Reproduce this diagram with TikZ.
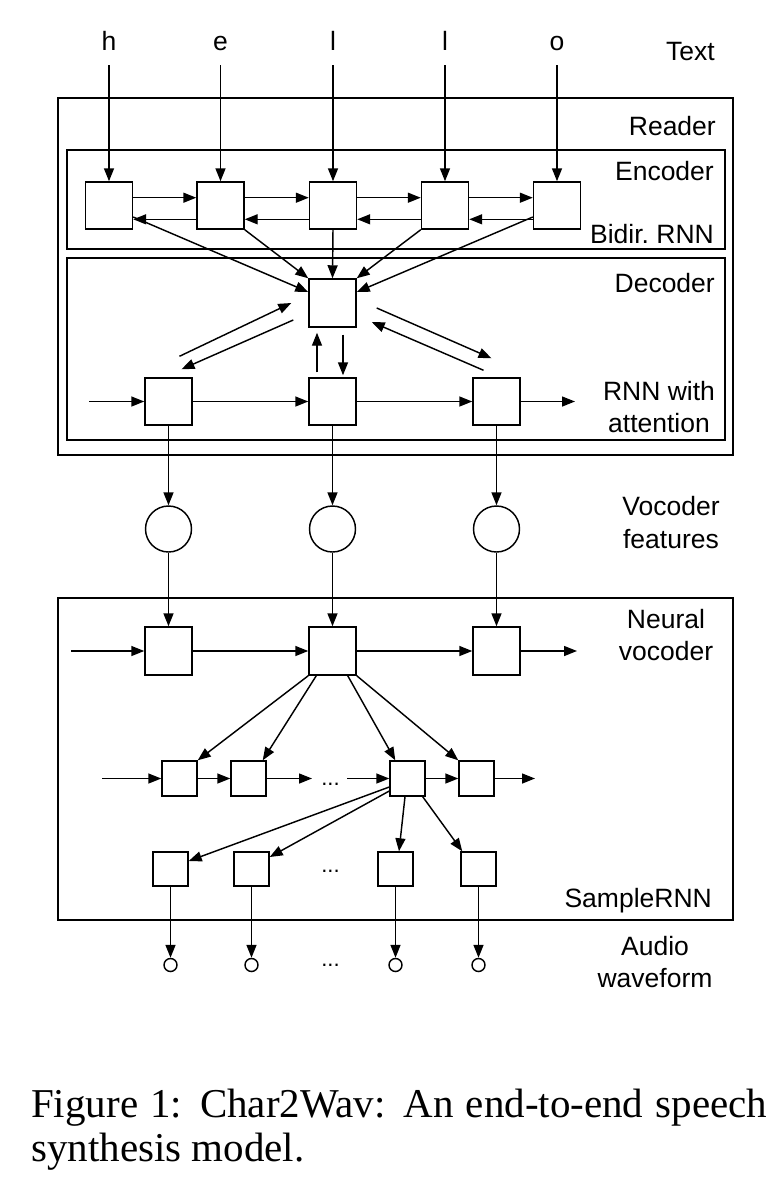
\documentclass[tikz,border=0pt]{standalone}
\usepackage{fontspec}
\setmainfont{Liberation Sans}
\newfontfamily\capfont{Liberation Serif}
\usetikzlibrary{arrows.meta,calc}
\begin{document}
\begin{tikzpicture}[x=1pt,y=-1pt,
  arr/.style={line width=1.45pt,-{Triangle[length=13pt,width=10pt]}},
  frame/.style={draw,line width=1.45pt},
  bigbox/.style={draw,line width=1.45pt,minimum width=47pt,minimum height=47pt,inner sep=0pt},
  smallbox/.style={draw,line width=1.45pt,minimum width=35pt,minimum height=35pt,inner sep=0pt},
  feat/.style={draw,circle,line width=1.45pt,minimum size=46pt,inner sep=0pt},
  wave/.style={draw,circle,line width=1.45pt,minimum size=13pt,inner sep=0pt},
  lab/.style={inner sep=0pt,font=\fontsize{26.5}{32}\selectfont},
  dotlab/.style={inner sep=0pt,font=\fontsize{22}{26}\selectfont},
  captext/.style={inner sep=0pt,anchor=base west,font=\capfont\fontsize{41}{44}\selectfont},
]
\useasboundingbox (0,0) rectangle (775,1200);
\fill[white] (0,0) rectangle (775,1200);

% frames
\draw[frame] (58,98) rectangle (733,455);
\draw[frame] (67,150) rectangle (725,249);
\draw[frame] (67,258) rectangle (725,440);
\draw[frame] (58,598) rectangle (733,920);

% encoder
\node[bigbox] (e1) at (109,205.5) {};
\node[bigbox] (e2) at (220.5,205.5) {};
\node[bigbox] (e3) at (333,205.5) {};
\node[bigbox] (e4) at (445,205.5) {};
\node[bigbox] (e5) at (557,205.5) {};

% letters
\node[lab,anchor=base] (t1) at (e1.north |- 0,50) {h};
\node[lab,anchor=base] (t2) at (e2.north |- 0,50) {e};
\node[lab,anchor=base] (t3) at (e3.north |- 0,50) {l};
\node[lab,anchor=base] (t4) at (e4.north |- 0,50) {l};
\node[lab,anchor=base] (t5) at (e5.north |- 0,50) {o};
\foreach \i in {1,...,5} {
  \draw[arr] ([yshift=-15pt]t\i.base) -- (e\i.north);
}
\foreach \a/\b in {e1/e2,e2/e3,e3/e4,e4/e5} {
  \draw[arr] ($(\a.east)+(0,-7.8)$) -- ($(\b.west)+(0,-7.8)$);
  \draw[arr] ($(\b.west)+(0,13.8)$) -- ($(\a.east)+(0,13.8)$);
}

% attention
\node[bigbox,minimum height=48pt] (att) at (332.5,303) {};
\draw[arr] ($(e1.east)+(0,11.5)$) -- ($(att.west)+(0,-11)$);
\draw[arr] (e2.south east) -- (att.north west);
\draw[arr] (e3.south) -- (att.north);
\draw[arr] (e4.south west) -- (att.north east);
\draw[arr] ($(e5.west)+(0,11.5)$) -- ($(att.east)+(0,-11)$);

% decoder RNN
\node[bigbox] (d1) at (168.5,401.5) {};
\node[bigbox] (d2) at (332.5,401.5) {};
\node[bigbox] (d3) at (496.5,401.5) {};
\coordinate (din) at (89,401.5);
\coordinate (dout) at (575,401.5);
\draw[arr] (din) -- (d1.west);
\draw[arr] (d1.east) -- (d2.west);
\draw[arr] (d2.east) -- (d3.west);
\draw[arr] (d3.east) -- (dout);

\draw[arr] ($(d1.north)+(11,-21)$) -- ($(att.west)+(-17,0)$);
\draw[arr] ($(att.west)+(-15,17)$) -- ($(d1.north)+(13,-8)$);
\draw[arr] ($(att.east)+(20,5)$) -- ($(d3.north)+(-5,-19)$);
\draw[arr] ($(d3.north)+(-13,-7)$) -- ($(att.east)+(15,19)$);
\draw[arr] ($(d2.north)+(-15.5,-5)$) -- ($(att.south)+(-15.5,5)$);
\draw[arr] ($(att.south)+(10.5,7)$) -- ($(d2.north)+(10.5,-2)$);

% vocoder features
\node[feat] (f1) at (168.5,529) {};
\node[feat] (f2) at (332.5,529) {};
\node[feat] (f3) at (496.5,529) {};
\draw[arr] (d1.south) -- (f1.north);
\draw[arr] (d2.south) -- (f2.north);
\draw[arr] (d3.south) -- (f3.north);

% neural vocoder
\node[bigbox,minimum height=48pt] (v1) at (168.5,651) {};
\node[bigbox,minimum height=48pt] (v2) at (332.5,651) {};
\node[bigbox,minimum height=48pt] (v3) at (496.5,651) {};
\draw[arr] (f1.south) -- (v1.north);
\draw[arr] (f2.south) -- (v2.north);
\draw[arr] (f3.south) -- (v3.north);
\coordinate (vin) at (71,651);
\coordinate (vout) at (577,651);
\draw[arr] (vin) -- (v1.west);
\draw[arr] (v1.east) -- (v2.west);
\draw[arr] (v2.east) -- (v3.west);
\draw[arr] (v3.east) -- (vout);

% SampleRNN tier 2
\node[smallbox] (b1) at (179.5,778.5) {};
\node[smallbox] (b2) at (248.5,778.5) {};
\node[smallbox] (b3) at (407.5,778.5) {};
\node[smallbox] (b4) at (476.5,778.5) {};
\coordinate (bin) at (102,778.5);
\coordinate (bdotL) at (312,778.5);
\coordinate (bdotR) at (347,778.5);
\coordinate (bout) at (535,778.5);
\draw[arr] (bin) -- (b1.west);
\draw[arr] (b1.east) -- (b2.west);
\draw[arr] (b2.east) -- (bdotL);
\node[dotlab,anchor=base] (bdots) at (330.5,785) {...};
\draw[arr] (bdotR) -- (b3.west);
\draw[arr] (b3.east) -- (b4.west);
\draw[arr] (b4.east) -- (bout);

\draw[arr] (v2.south west) -- (b1.north east);
\draw[arr] ($(v2.south west)+(8,0)$) -- ($(b2.north east)+(-4,0)$);
\draw[arr] ($(v2.south east)+(-9,0)$) -- ($(b3.north west)+(6,0)$);
\draw[arr] (v2.south east) -- (b4.north west);

% SampleRNN tier 3
\node[smallbox,minimum height=34pt] (c1) at (170.5,869) {};
\node[smallbox,minimum height=34pt] (c2) at (251.5,869) {};
\node[smallbox,minimum height=34pt] (c3) at (395.5,869) {};
\node[smallbox,minimum height=34pt] (c4) at (478.5,869) {};
\node[dotlab,anchor=base] (cdots) at (330.5,872) {...};

\draw[arr] ($(b3.west)+(0,8.5)$) -- ($(c1.east)+(0,-8)$);
\draw[arr] ($(b3.west)+(0,12.5)$) -- ($(c2.east)+(0,-12)$);
\draw[arr] ($(b3.south)+(-2.5,0)$) -- ($(c3.north)+(3.5,0)$);
\draw[arr] ($(b3.south east)+(-3,0)$) -- ($(c4.north west)+(2,0)$);

% audio waveform
\node[wave] (o1) at (170.5,965) {};
\node[wave] (o2) at (251.5,965) {};
\node[wave] (o3) at (395.5,965) {};
\node[wave] (o4) at (478.5,965) {};
\node[dotlab,anchor=base] (odots) at (330.5,966) {...};
\foreach \i in {1,...,4} {
  \draw[arr] (c\i.south) -- (o\i.north);
}

% labels
\node[lab,anchor=base east] (ltext) at (715,60) {Text};
\node[lab,anchor=base east] (lreader) at (716,135) {Reader};
\node[lab,anchor=base east] (lenc) at (714,180) {Encoder};
\node[lab,anchor=base east] (lbidir) at (714,243) {Bidir.\ RNN};
\node[lab,anchor=base east] (ldec) at (715,292) {Decoder};
\node[lab,anchor=base] (lrnn1) at (659,400) {RNN with};
\node[lab,anchor=base] (lrnn2) at (659,432) {attention};
\node[lab,anchor=base] (lvf1) at (671,515) {Vocoder};
\node[lab,anchor=base] (lvf2) at (671,548) {features};
\node[lab,anchor=base] (lnv1) at (666,628) {Neural};
\node[lab,anchor=base] (lnv2) at (666,660) {vocoder};
\node[lab,anchor=base east] (lsrnn) at (712,907) {SampleRNN};
\node[lab,anchor=base] (law1) at (655,955) {Audio};
\node[lab,anchor=base] (law2) at (655,987) {waveform};

% caption
\node[captext] (cap1) at (31,1117) {\makebox[736pt][s]{Figure 1: Char2Wav: An end-to-end speech}};
\node[captext] (cap2) at (31,1161) {synthesis model.};
\end{tikzpicture}
\end{document}
